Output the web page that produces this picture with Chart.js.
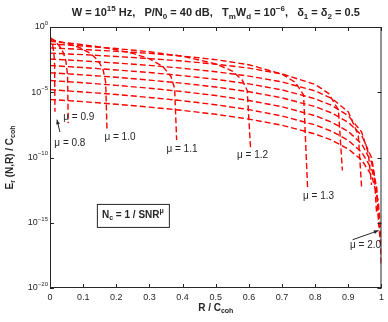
<!DOCTYPE html>
<html>
<head>
<meta charset="utf-8">
<script src="https://cdn.jsdelivr.net/npm/chart.js@4.4.1/dist/chart.umd.min.js"></script>
<style>
  html, body { margin: 0; padding: 0; background: #fff; }
  #wrap { width: 388px; height: 322px; }
</style>
</head>
<body>
<div id="wrap"><canvas id="chart"></canvas></div>
<script>
// curves: R / Ccoh and log10(Er / Ccoh), one pair per mu
const muLabels = ['0.8', '0.9', '1.0', '1.1', '1.2', '1.3', '1.4', '1.5', '1.6', '1.7', '1.8', '1.9', '2.0'];

const rMu08 = [0, 0.004, 0.008, 0.011, 0.013, 0.014, 0.015];
const logMu08 = [-0.72, -0.99, -1.38, -1.87, -2.47, -3.07, -6.5];
const rMu09 = [0, 0.01, 0.02, 0.03, 0.04, 0.048, 0.053, 0.055];
const logMu09 = [-0.82, -0.99, -1.21, -1.51, -1.95, -2.61, -3.70, -7.35];
const rMu10 = [0, 0.03, 0.06, 0.09, 0.12, 0.145, 0.16, 0.168, 0.172];
const logMu10 = [-0.95, -1.12, -1.32, -1.59, -1.99, -2.56, -3.26, -4.22, -8.0];
const rMu11 = [0, 0.05, 0.1, 0.15, 0.2, 0.25, 0.3, 0.34, 0.365, 0.376, 0.382];
const logMu11 = [-1.1, -1.22, -1.36, -1.53, -1.74, -2.02, -2.44, -3.02, -3.80, -4.71, -8.66];
const rMu12 = [0, 0.1, 0.2, 0.3, 0.4, 0.5, 0.55, 0.58, 0.595, 0.605];
const logMu12 = [-1.3, -1.46, -1.65, -1.90, -2.24, -2.82, -3.38, -4.07, -4.87, -9.3];
const rMu13 = [0, 0.1, 0.2, 0.3, 0.4, 0.5, 0.6, 0.7, 0.74, 0.765, 0.777];
const logMu13 = [-1.6, -1.72, -1.86, -2.02, -2.23, -2.50, -2.89, -3.61, -4.24, -5.22, -12.3];
const rMu14 = [0, 0.1, 0.2, 0.3, 0.4, 0.5, 0.6, 0.7, 0.8, 0.84, 0.87, 0.882];
const logMu14 = [-2.0, -2.12, -2.26, -2.42, -2.61, -2.85, -3.15, -3.60, -4.40, -5.08, -6.35, -11.0];
const rMu15 = [0, 0.1, 0.2, 0.3, 0.4, 0.5, 0.6, 0.7, 0.8, 0.85, 0.9, 0.93, 0.94];
const logMu15 = [-2.45, -2.60, -2.76, -2.94, -3.16, -3.43, -3.76, -4.21, -4.90, -5.47, -6.51, -8.30, -12.3];
const rMu16 = [0, 0.1, 0.2, 0.3, 0.4, 0.5, 0.6, 0.7, 0.8, 0.85, 0.9, 0.94, 0.96, 0.97];
const logMu16 = [-2.95, -3.11, -3.29, -3.49, -3.73, -4.01, -4.36, -4.82, -5.50, -6.01, -6.80, -8.04, -9.65, -12.1];
const rMu17 = [0, 0.1, 0.2, 0.3, 0.4, 0.5, 0.6, 0.7, 0.8, 0.85, 0.9, 0.94, 0.97, 0.978, 0.985];
const logMu17 = [-3.5, -3.67, -3.85, -4.07, -4.31, -4.60, -4.96, -5.43, -6.10, -6.59, -7.31, -8.30, -10.01, -11.19, -14.2];
const rMu18 = [0, 0.1, 0.2, 0.3, 0.4, 0.5, 0.6, 0.7, 0.8, 0.85, 0.9, 0.94, 0.97, 0.985, 0.992];
const logMu18 = [-4.1, -4.27, -4.47, -4.69, -4.95, -5.25, -5.63, -6.11, -6.80, -7.30, -8.01, -8.95, -10.37, -12.25, -15.3];
const rMu19 = [0, 0.1, 0.2, 0.3, 0.4, 0.5, 0.6, 0.7, 0.8, 0.85, 0.9, 0.94, 0.97, 0.985, 0.996];
const logMu19 = [-4.8, -4.98, -5.17, -5.40, -5.65, -5.96, -6.33, -6.82, -7.50, -7.99, -8.69, -9.59, -10.86, -12.3, -16.5];
const rMu20 = [0, 0.1, 0.2, 0.3, 0.4, 0.5, 0.6, 0.7, 0.8, 0.85, 0.9, 0.94, 0.97, 0.99, 0.996, 0.999];
const logMu20 = [-5.55, -5.72, -5.92, -6.14, -6.39, -6.69, -7.06, -7.53, -8.20, -8.67, -9.35, -10.19, -11.36, -13.28, -15.09, -18.2];

const curves = [
  [rMu08, logMu08], [rMu09, logMu09], [rMu10, logMu10], [rMu11, logMu11],
  [rMu12, logMu12], [rMu13, logMu13], [rMu14, logMu14], [rMu15, logMu15],
  [rMu16, logMu16], [rMu17, logMu17], [rMu18, logMu18], [rMu19, logMu19],
  [rMu20, logMu20]
];

const xTickVals = [0, 0.1, 0.2, 0.3, 0.4, 0.5, 0.6, 0.7, 0.8, 0.9, 1];
const yTickExps = [0, -5, -10, -15, -20];

// where the mu labels sit, in (R, log10) units
const labelSpots = [
  ['0.8', 0.060, -8.9], ['0.9', 0.087, -6.9], ['1.0', 0.211, -8.45],
  ['1.1', 0.398, -9.4], ['1.2', 0.611, -9.8], ['1.3', 0.81, -13.0],
  ['2.0', 0.952, -16.7]
];
const arrows = [
  [0.030, -8.05, 0.021, -7.1],
  [0.913, -16.3, 0.991, -15.6]
];

const FONT = '"Liberation Sans", Arial, sans-serif';
const INK = '#262626';

function drawRich(ctx, parts, x, y, size, bold, align) {
  const fontFor = (mode) => (bold ? 'bold ' : '') + (mode === 'n' ? size : Math.round(size * 0.72)) + 'px ' + FONT;
  let total = 0;
  parts.forEach(([t, m]) => { ctx.font = fontFor(m); total += ctx.measureText(t).width; });
  let cx = align === 'right' ? x - total : align === 'left' ? x : x - total / 2;
  ctx.textBaseline = 'middle';
  ctx.textAlign = 'left';
  parts.forEach(([t, m]) => {
    ctx.font = fontFor(m);
    const dy = m === 'sup' ? -size * 0.42 : m === 'sub' ? size * 0.35 : 0;
    ctx.fillText(t, cx, y + dy);
    cx += ctx.measureText(t).width;
  });
}

const decor = {
  id: 'decor',
  afterDraw(chart) {
    const { ctx, chartArea: a, scales: { x, y } } = chart;
    const px = (r) => x.getPixelForValue(r);
    const py = (lg) => y.getPixelForValue(Math.pow(10, lg));
    ctx.save();
    ctx.strokeStyle = INK;
    ctx.lineWidth = 1;
    ctx.strokeRect(a.left + 0.5, a.top + 0.5, a.width - 1, a.height - 1);
    ctx.beginPath();
    xTickVals.forEach(v => {
      const p = Math.round(px(v)) + 0.5;
      ctx.moveTo(p, a.bottom); ctx.lineTo(p, a.bottom - 4);
      ctx.moveTo(p, a.top); ctx.lineTo(p, a.top + 4);
    });
    yTickExps.forEach(e => {
      const p = Math.round(py(e)) + 0.5;
      ctx.moveTo(a.left, p); ctx.lineTo(a.left + 4, p);
      ctx.moveTo(a.right, p); ctx.lineTo(a.right - 4, p);
    });
    ctx.stroke();

    ctx.fillStyle = INK;
    yTickExps.forEach(e => {
      drawRich(ctx, [['10', 'n'], [String(e).replace('-', '\u2212'), 'sup']], a.left - 2, py(e), 9, false, 'right');
    });

    // title
    drawRich(ctx, [
      ['W = 10', 'n'], ['15', 'sup'], [' Hz,   P/N', 'n'], ['0', 'sub'], [' = 40 dB,   T', 'n'],
      ['m', 'sub'], ['W', 'n'], ['d', 'sub'], [' = 10', 'n'], ['\u22126', 'sup'],
      [',   \u03b4', 'n'], ['1', 'sub'], [' = \u03b4', 'n'], ['2', 'sub'], [' = 0.5', 'n']
    ], (a.left + a.right) / 2, 13, 11, true, 'center');

    // axis titles
    drawRich(ctx, [['R / C', 'n'], ['coh', 'sub']], (a.left + a.right) / 2, a.bottom + 20, 10, true, 'center');
    ctx.save();
    ctx.translate(10, (a.top + a.bottom) / 2);
    ctx.rotate(-Math.PI / 2);
    drawRich(ctx, [['E', 'n'], ['r', 'sub'], [' (N,R) / C', 'n'], ['coh', 'sub']], 0, 0, 10, true, 'center');
    ctx.restore();

    // mu labels and arrows
    labelSpots.forEach(([m, r, lg]) => {
      drawRich(ctx, [['\u03bc = ' + m, 'n']], px(r), py(lg), 10, false, 'center');
    });
    arrows.forEach(([r0, l0, r1, l1]) => {
      const x0 = px(r0), y0 = py(l0), x1 = px(r1), y1 = py(l1);
      ctx.beginPath(); ctx.moveTo(x0, y0); ctx.lineTo(x1, y1); ctx.stroke();
      const ang = Math.atan2(y1 - y0, x1 - x0);
      ctx.beginPath();
      ctx.moveTo(x1, y1);
      ctx.lineTo(x1 - 5 * Math.cos(ang - 0.4), y1 - 5 * Math.sin(ang - 0.4));
      ctx.lineTo(x1 - 5 * Math.cos(ang + 0.4), y1 - 5 * Math.sin(ang + 0.4));
      ctx.closePath(); ctx.fill();
    });

    // N_c box
    const bx = px(0.25), by = py(-14.4);
    ctx.fillStyle = '#fff';
    ctx.fillRect(bx - 36, by - 11, 72, 23);
    ctx.strokeRect(bx - 36 + 0.5, by - 11 + 0.5, 72, 23);
    ctx.fillStyle = INK;
    drawRich(ctx, [['N', 'n'], ['c', 'sub'], [' = 1 / SNR', 'n'], ['\u03bc', 'sup']], bx, by, 10, true, 'center');
    ctx.restore();
  }
};

const datasets = curves.map(([r, lg], i) => ({
  label: '\u03bc = ' + muLabels[i],
  data: r.map((v, j) => ({ x: v, y: Math.pow(10, lg[j]) })),
  borderColor: '#ff0000',
  borderWidth: 1.4,
  borderDash: [6, 3],
  pointRadius: 0,
  fill: false,
  tension: 0
}));

new Chart(document.getElementById('chart'), {
  type: 'line',
  data: { datasets },
  options: {
    responsive: true,
    maintainAspectRatio: false,
    animation: false,
    layout: { padding: { top: 27, right: 6, left: 0, bottom: 0 } },
    plugins: { legend: { display: false }, tooltip: { enabled: false } },
    scales: {
      x: {
        type: 'linear', min: 0, max: 1,
        grid: { display: false, drawTicks: false },
        border: { display: false },
        afterBuildTicks: (s) => { s.ticks = xTickVals.map(v => ({ value: v })); },
        afterFit: (s) => { s.height = 34; },
        ticks: {
          padding: 4, maxRotation: 0, autoSkip: false,
          color: INK, font: { family: FONT, size: 9 },
          callback: (v) => String(v)
        }
      },
      y: {
        type: 'logarithmic', min: 1e-20, max: 1,
        grid: { display: false, drawTicks: false },
        border: { display: false },
        afterBuildTicks: (s) => { s.ticks = yTickExps.map(e => ({ value: Math.pow(10, e) })); },
        afterFit: (s) => { s.width = 50; },
        ticks: { display: false }
      }
    }
  },
  plugins: [decor]
});
</script>
</body>
</html>
